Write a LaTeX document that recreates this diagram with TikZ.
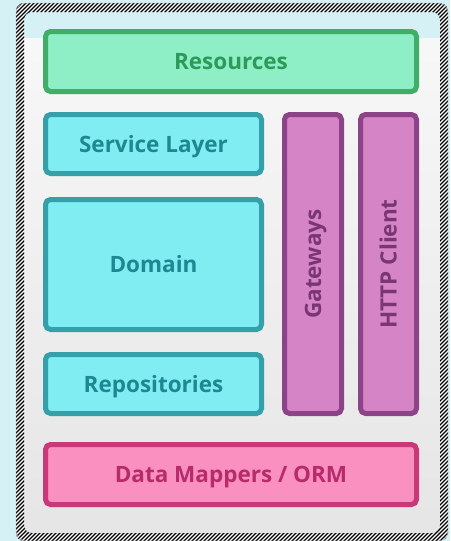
\documentclass[tikz,border=0pt]{standalone}
\usepackage{fontspec}
\setsansfont{Open Sans}
\definecolor{skyback}{HTML}{D5F1F5}
\definecolor{resfill}{HTML}{8EEFC7}
\definecolor{resline}{HTML}{40AD68}
\definecolor{restext}{HTML}{2E9A58}
\definecolor{domfill}{HTML}{80EDF2}
\definecolor{domline}{HTML}{35A0AA}
\definecolor{domtext}{HTML}{1D8892}
\definecolor{gatefill}{HTML}{D584C6}
\definecolor{gateline}{HTML}{8C4387}
\definecolor{gatetext}{HTML}{7A3575}
\definecolor{ormfill}{HTML}{F990C0}
\definecolor{ormline}{HTML}{C9397A}
\definecolor{ormtext}{HTML}{B82B6B}
\tikzset{
  layer/.style={draw, line width=5pt, rounded corners=5pt, inner sep=0pt,
    text height=16pt, text depth=0pt,
    font=\sffamily\bfseries\fontsize{22.5}{26}\selectfont},
  reslayer/.style={layer, fill=resfill, draw=resline, text=restext},
  domlayer/.style={layer, fill=domfill, draw=domline, text=domtext},
  gatelayer/.style={layer, fill=gatefill, draw=gateline, text=gatetext},
  ormlayer/.style={layer, fill=ormfill, draw=ormline, text=ormtext}
}
\begin{document}
\begin{tikzpicture}[x=1pt,y=-1pt]
    \useasboundingbox (0,0) rectangle (450,541);
    \fill[skyback] (0,0) rectangle (450,541);
    % frame and its inside
    \fill[white,rounded corners=10pt] (16,3) rectangle (448,541);
    \fill[skyback] (24,12) rectangle (440,38);
    \shade[top color=white!97!black, bottom color=white!90!black] (24,38) rectangle (440,533);
    \begin{scope}[even odd rule, rounded corners=8pt]
      \clip (16,3) rectangle (448,541) (24,12) rectangle (440,533);
      \foreach \i in {-560,-556,...,460}
        \draw[line width=1.2pt] (\i,545) -- ++(545,-545);
    \end{scope}
    \draw[black!30,rounded corners=10pt] (16,3) rectangle (448,541);
    % layers
    \node[reslayer, minimum width=371pt, minimum height=60pt] (res) at (231,61.5) {Resources};
    \node[domlayer, minimum width=216pt, minimum height=59pt] (svc) at (153.5,144) {Service Layer};
    \node[domlayer, minimum width=216pt, minimum height=130pt] (dom) at (153.5,264.5) {Domain};
    \node[domlayer, minimum width=216pt, minimum height=59pt] (repo) at (153.5,384) {Repositories};
    \node[gatelayer, rotate=90, minimum width=299pt, minimum height=57pt] (gate) at (313,264) {Gateways};
    \node[gatelayer, rotate=90, minimum width=299pt, minimum height=56pt] (http) at (388.5,264) {HTTP Client};
    \node[ormlayer, minimum width=371pt, minimum height=60pt] (orm) at (231,474.5) {Data Mappers / ORM};
\end{tikzpicture}
\end{document}
